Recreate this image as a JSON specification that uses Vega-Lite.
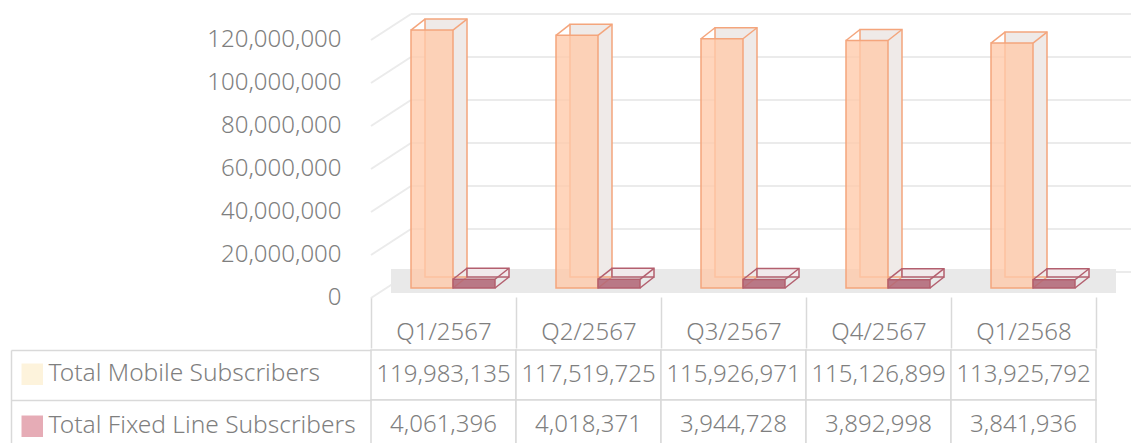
{
  "$schema": "https://vega.github.io/schema/vega-lite/v6.json",
  "padding": {"left": 10, "top": 13, "right": 0, "bottom": 0},
  "spacing": 0,
  "config": {"view": {"stroke": null}, "font": "Noto Sans"},
  "datasets": {
    "subs": [
      {"quarter": "Q1/2567", "series": "Total Mobile Subscribers", "value": 119983135},
      {"quarter": "Q2/2567", "series": "Total Mobile Subscribers", "value": 117519725},
      {"quarter": "Q3/2567", "series": "Total Mobile Subscribers", "value": 115926971},
      {"quarter": "Q4/2567", "series": "Total Mobile Subscribers", "value": 115126899},
      {"quarter": "Q1/2568", "series": "Total Mobile Subscribers", "value": 113925792},
      {"quarter": "Q1/2567", "series": "Total Fixed Line Subscribers", "value": 4061396},
      {"quarter": "Q2/2567", "series": "Total Fixed Line Subscribers", "value": 4018371},
      {"quarter": "Q3/2567", "series": "Total Fixed Line Subscribers", "value": 3944728},
      {"quarter": "Q4/2567", "series": "Total Fixed Line Subscribers", "value": 3892998},
      {"quarter": "Q1/2568", "series": "Total Fixed Line Subscribers", "value": 3841936}
    ],
    "ticks": [
      {"tick": 0}, {"tick": 20000000}, {"tick": 40000000}, {"tick": 60000000},
      {"tick": 80000000}, {"tick": 100000000}, {"tick": 120000000}
    ]
  },
  "vconcat": [
    {
      "width": 725,
      "height": 258,
      "layer": [
        {
          "data": {"name": "ticks"},
          "mark": {"type": "rule", "color": "#ebebeb", "strokeWidth": 2, "xOffset": -32.5, "x2Offset": 112.5, "yOffset": -16, "y2Offset": -16},
          "encoding": {
            "x": {"datum": "Q1/2567", "type": "nominal"},
            "x2": {"datum": "Q1/2568"},
            "y": {"field": "tick", "type": "quantitative", "title": null,
              "scale": {"domain": [0, 120000000], "nice": false, "zero": true},
              "axis": {"values": [0, 20000000, 40000000, 60000000, 80000000, 100000000, 120000000], "format": ",d",
                "labelFontSize": 24, "labelColor": "#7f7f7f", "labelFont": "Noto Sans", "labelFontWeight": 300, "labelPadding": 30, "labelOffset": 9,
                "labelFlush": false, "domain": false, "ticks": false, "grid": false, "title": null}},
            "y2": {"field": "tick"}
          }
        },
        {
          "data": {"name": "ticks"},
          "mark": {"type": "rule", "color": "#ebebeb", "strokeWidth": 2, "xOffset": -72.5, "x2Offset": -32.5, "yOffset": 10, "y2Offset": -16},
          "encoding": {
            "x": {"datum": "Q1/2567", "type": "nominal"},
            "x2": {"datum": "Q1/2567"},
            "y": {"field": "tick", "type": "quantitative", "title": null},
            "y2": {"field": "tick"}
          }
        },
        {
          "data": {"name": "subs"},
          "transform": [{"filter": "datum.series === 'Total Mobile Subscribers'"}],
          "mark": {"type": "rect", "fill": "#e9e9e9", "xOffset": 20, "x2Offset": 20, "yOffset": 5, "y2Offset": -19},
          "encoding": {
            "x": {"field": "quarter", "type": "nominal", "sort": null, "title": null,
              "scale": {"domain": ["Q1/2567", "Q2/2567", "Q3/2567", "Q4/2567", "Q1/2568"], "paddingInner": 0, "paddingOuter": 0},
              "axis": {"orient": "bottom", "offset": 9, "tickBand": "extent", "tickSize": 51, "tickColor": "#d9d9d9", "tickWidth": 1.5,
                "domain": false, "grid": false, "labelFontSize": 24, "labelColor": "#7f7f7f", "labelFont": "Noto Sans", "labelFontWeight": 300,
                "labelBaseline": "middle", "labelAlign": "center", "labelPadding": -16, "labelOverlap": false, "labelAngle": 0, "title": null}},
            "y": {"datum": 0, "type": "quantitative"},
            "y2": {"datum": 0}
          }
        },
        {
          "data": {"name": "subs"},
          "transform": [{"filter": "datum.series === 'Total Mobile Subscribers'"}],
          "mark": {"type": "bar", "width": {"band": 0.2897}, "fill": "#efeae8", "stroke": "#f4a57c", "strokeWidth": 1.5,
            "xOffset": 2.5, "x2Offset": 2.5, "yOffset": -11, "y2Offset": -11},
          "encoding": {
            "x": {"field": "quarter", "type": "nominal", "sort": null},
            "y": {"field": "value", "type": "quantitative", "title": null},
            "y2": {"datum": 0}
          }
        },
        {
          "data": {"name": "subs"},
          "transform": [{"filter": "datum.series === 'Total Mobile Subscribers'"}],
          "mark": {"type": "bar", "width": {"band": 0.2897}, "fill": "#ffc9a9", "fillOpacity": 0.78, "stroke": "#f4a57c", "strokeWidth": 1.5,
            "xOffset": -11.5, "x2Offset": -11.5},
          "encoding": {
            "x": {"field": "quarter", "type": "nominal", "sort": null},
            "y": {"field": "value", "type": "quantitative", "title": null},
            "y2": {"datum": 0}
          }
        },
        {
          "data": {"name": "subs"},
          "transform": [{"filter": "datum.series === 'Total Mobile Subscribers'"}],
          "mark": {"type": "rule", "color": "#f4a57c", "strokeWidth": 1.5, "xOffset": -32.5, "x2Offset": -18.5, "y2Offset": -11},
          "encoding": {
            "x": {"field": "quarter", "type": "nominal", "sort": null},
            "x2": {"field": "quarter"},
            "y": {"field": "value", "type": "quantitative", "title": null},
            "y2": {"field": "value"}
          }
        },
        {
          "data": {"name": "subs"},
          "transform": [{"filter": "datum.series === 'Total Mobile Subscribers'"}],
          "mark": {"type": "rule", "color": "#f4a57c", "strokeWidth": 1.5, "xOffset": 9.5, "x2Offset": 23.5, "y2Offset": -11},
          "encoding": {
            "x": {"field": "quarter", "type": "nominal", "sort": null},
            "x2": {"field": "quarter"},
            "y": {"field": "value", "type": "quantitative", "title": null},
            "y2": {"field": "value"}
          }
        },
        {
          "data": {"name": "subs"},
          "transform": [{"filter": "datum.series === 'Total Mobile Subscribers'"}],
          "mark": {"type": "rule", "color": "#f4a57c", "strokeWidth": 1.5, "xOffset": 9.5, "x2Offset": 23.5, "y2Offset": -11},
          "encoding": {
            "x": {"field": "quarter", "type": "nominal", "sort": null},
            "x2": {"field": "quarter"},
            "y": {"datum": 0, "type": "quantitative"},
            "y2": {"datum": 0}
          }
        },
        {
          "data": {"name": "subs"},
          "transform": [{"filter": "datum.series === 'Total Fixed Line Subscribers'"}],
          "mark": {"type": "bar", "width": {"band": 0.2897}, "fill": "#f1e9eb", "stroke": "#b35f6e", "strokeWidth": 1.5,
            "xOffset": 44.5, "x2Offset": 44.5, "yOffset": -11, "y2Offset": -11},
          "encoding": {
            "x": {"field": "quarter", "type": "nominal", "sort": null},
            "y": {"field": "value", "type": "quantitative", "title": null},
            "y2": {"datum": 0}
          }
        },
        {
          "data": {"name": "subs"},
          "transform": [{"filter": "datum.series === 'Total Fixed Line Subscribers'"}],
          "mark": {"type": "bar", "width": {"band": 0.2897}, "fill": "#b06474", "fillOpacity": 0.85, "stroke": "#b35f6e", "strokeWidth": 1.5,
            "xOffset": 30.5, "x2Offset": 30.5},
          "encoding": {
            "x": {"field": "quarter", "type": "nominal", "sort": null},
            "y": {"field": "value", "type": "quantitative", "title": null},
            "y2": {"datum": 0}
          }
        },
        {
          "data": {"name": "subs"},
          "transform": [{"filter": "datum.series === 'Total Fixed Line Subscribers'"}],
          "mark": {"type": "rule", "color": "#b35f6e", "strokeWidth": 1.5, "xOffset": 9.5, "x2Offset": 23.5, "y2Offset": -11},
          "encoding": {
            "x": {"field": "quarter", "type": "nominal", "sort": null},
            "x2": {"field": "quarter"},
            "y": {"field": "value", "type": "quantitative", "title": null},
            "y2": {"field": "value"}
          }
        },
        {
          "data": {"name": "subs"},
          "transform": [{"filter": "datum.series === 'Total Fixed Line Subscribers'"}],
          "mark": {"type": "rule", "color": "#b35f6e", "strokeWidth": 1.5, "xOffset": 51.5, "x2Offset": 65.5, "y2Offset": -11},
          "encoding": {
            "x": {"field": "quarter", "type": "nominal", "sort": null},
            "x2": {"field": "quarter"},
            "y": {"field": "value", "type": "quantitative", "title": null},
            "y2": {"field": "value"}
          }
        },
        {
          "data": {"name": "subs"},
          "transform": [{"filter": "datum.series === 'Total Fixed Line Subscribers'"}],
          "mark": {"type": "rule", "color": "#b35f6e", "strokeWidth": 1.5, "xOffset": 51.5, "x2Offset": 65.5, "y2Offset": -11},
          "encoding": {
            "x": {"field": "quarter", "type": "nominal", "sort": null},
            "x2": {"field": "quarter"},
            "y": {"datum": 0, "type": "quantitative"},
            "y2": {"datum": 0}
          }
        }
      ]
    },
    {
      "width": 725,
      "height": 100,
      "data": {"name": "subs"},
      "encoding": {
        "x": {"field": "quarter", "type": "nominal", "sort": null,
          "scale": {"domain": ["Q1/2567", "Q2/2567", "Q3/2567", "Q4/2567", "Q1/2568"], "paddingInner": 0, "paddingOuter": 0},
          "axis": null},
        "y": {"field": "series", "type": "nominal",
          "scale": {"domain": ["Total Mobile Subscribers", "Total Fixed Line Subscribers"], "paddingInner": 0, "paddingOuter": 0},
          "axis": {"orient": "left", "offset": 360, "tickSize": -360, "tickBand": "extent", "tickColor": "#d9d9d9", "tickWidth": 1.5,
            "domainColor": "#d9d9d9", "domainWidth": 1.5, "labels": false, "grid": false, "title": null}}
      },
      "layer": [
        {
          "mark": {"type": "rect"},
          "encoding": {
            "fill": {"field": "series", "type": "nominal",
              "scale": {"domain": ["Total Mobile Subscribers", "Total Fixed Line Subscribers"], "range": ["#fdf3dc", "#e6acb6"]},
              "legend": {"orient": "none", "legendX": -351, "legendY": 332, "title": null, "symbolType": "square", "symbolSize": 462,
                "labelFontSize": 24.5, "labelColor": "#7f7f7f", "labelFont": "Noto Sans", "labelFontWeight": 300, "rowPadding": 27,
                "labelOffset": 4, "labelLimit": 0, "padding": 0, "symbolStrokeWidth": 0, "symbolOpacity": 1}}
          }
        },
        {
          "mark": {"type": "rect", "fill": "white", "stroke": "#d9d9d9", "strokeWidth": 1.5}
        },
        {
          "mark": {"type": "text", "fontSize": 24, "color": "#7f7f7f", "font": "Noto Sans", "fontWeight": 300},
          "encoding": {"text": {"field": "value", "type": "quantitative", "format": ",d"}}
        }
      ]
    }
  ]
}
